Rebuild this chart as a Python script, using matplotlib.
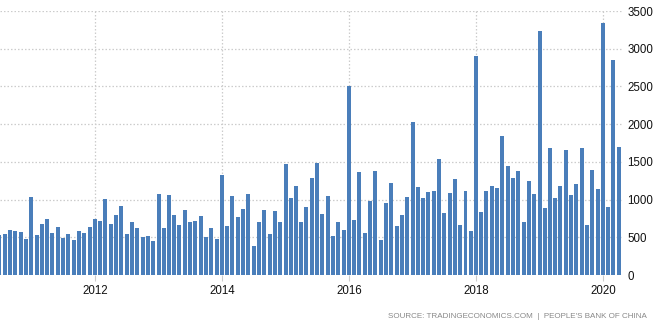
import pandas as pd
import matplotlib
matplotlib.use("Agg")
import matplotlib.pyplot as plt
import matplotlib.dates as mdates

# ================= DATA =================
# China new yuan loans, CNY billion, monthly from Jul 2010 to Apr 2020
months = pd.date_range("2010-07-01", "2020-04-01", freq="MS")

loans = [
    532.8, 545.2, 595.5, 587.7, 564.1, 480.7,
    1040, 535.6, 679.4, 739.6, 551.6, 633.9, 492.6, 548.5, 470.0, 586.8, 562.2, 640.5,
    738.1, 710.7, 1010, 681.8, 793.2, 919.8, 540.1, 703.9, 623.2, 505.2, 522.9, 454.3,
    1070, 620.0, 1060, 792.9, 667.4, 860.5, 699.9, 713.5, 787.0, 506.1, 624.6, 482.5,
    1320, 644.5, 1050, 774.7, 870.8, 1080, 385.2, 702.5, 857.2, 548.3, 852.7, 697.3,
    1470, 1020, 1180, 707.9, 900.8, 1280, 1480, 809.6, 1050, 513.6, 708.9, 597.8,
    2510, 726.6, 1370, 555.6, 985.5, 1380, 463.6, 948.7, 1220, 651.3, 794.6, 1040,
    2030, 1170, 1020, 1100, 1110, 1540, 825.5, 1090, 1270, 663.2, 1120, 584.4,
    2900, 839.3, 1120, 1180, 1150, 1840, 1450, 1280, 1380, 697.0, 1250, 1080,
    3230, 885.8, 1690, 1020, 1180, 1660, 1060, 1210, 1690, 661.3, 1390, 1140,
    3340, 905.7, 2850, 1700,
]

year_ticks = ["2012", "2014", "2016", "2018", "2020"]
y_ticks = [0, 500, 1000, 1500, 2000, 2500, 3000, 3500]

source = "SOURCE: TRADINGECONOMICS.COM  |  PEOPLE'S BANK OF CHINA"

# ================= PLOT =================
plt.rcParams["font.family"] = ["Liberation Sans", "DejaVu Sans"]

fig = plt.figure(figsize=(6.58, 3.26), dpi=100)
ax = fig.add_axes([0.0, 51 / 326, 622 / 658, 264 / 326])

ax.bar(months, loans, width=23, color="#4a7eba", align="center", zorder=2)

ax.set_xlim(pd.Timestamp("2010-07-04"), pd.Timestamp("2020-04-19"))
ax.set_ylim(0, 3500)

ax.set_xticks([pd.Timestamp(f"{y}-01-01") for y in year_ticks])
ax.xaxis.set_major_formatter(mdates.DateFormatter("%Y"))
ax.set_yticks(y_ticks)

ax.yaxis.tick_right()
ax.tick_params(axis="y", length=0, pad=4, labelsize=8.3, colors="#111111")
ax.tick_params(axis="x", length=4, width=0.8, color="#cccccc", pad=3,
               labelsize=8.3, labelcolor="#111111")

ax.grid(True, color="#cccccc", linestyle=(0, (1.2, 1.6)), linewidth=0.9, zorder=0)
ax.set_axisbelow(True)
for s in ax.spines.values():
    s.set_visible(False)

fig.text(647 / 658, 1 - 317 / 326, source, ha="right", va="center",
         fontsize=5.8, color="#888888")

fig.savefig("out.png", dpi=100)
